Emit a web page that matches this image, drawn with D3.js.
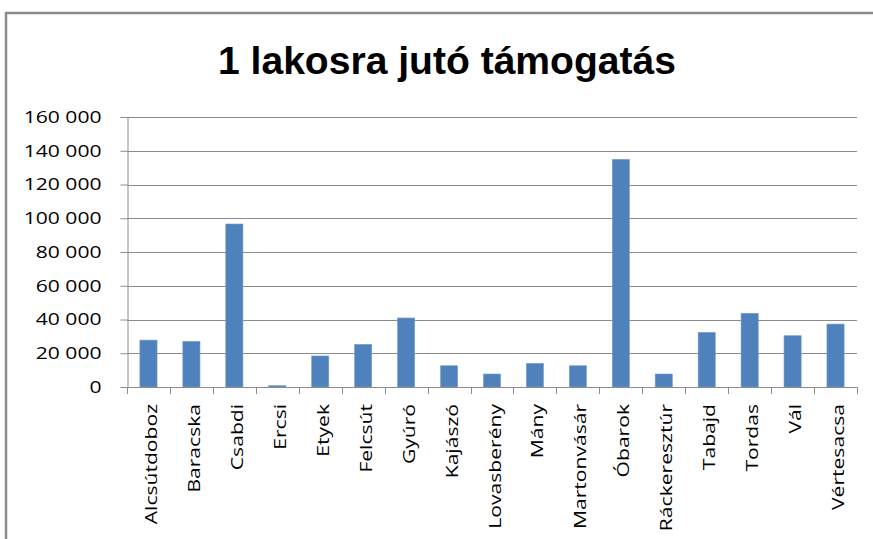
<!DOCTYPE html>
<html>
<head>
<meta charset="utf-8">
<script src="https://cdn.jsdelivr.net/npm/d3@7"></script>
<style>
  body { margin: 0; background: #fff; }
</style>
</head>
<body>
<div class="chart"></div>
<script>
var categories = ['Alcsútdoboz', 'Baracska', 'Csabdi', 'Ercsi', 'Etyek', 'Felcsút', 'Gyúró', 'Kajászó',
  'Lovasberény', 'Mány', 'Martonvásár', 'Óbarok', 'Ráckeresztúr', 'Tabajd', 'Tordas', 'Vál', 'Vértesacsa'];
var values = [27800, 27100, 96600, 800, 18400, 25300, 40900, 12600,
  7700, 14000, 12600, 134900, 7700, 32400, 43700, 30400, 37300];
var yTicks = [0, 20000, 40000, 60000, 80000, 100000, 120000, 140000, 160000];
var title = '1 lakosra jutó támogatás';

const width = 873;
const height = 539;
var plotLeft = 127, plotRight = 857, plotTop = 117, plotBottom = 387;
var stretch = 1.24;

var svg = d3.select('.chart')
  .append('svg')
  .attr('width', width)
  .attr('height', height);

// chart frame
svg.append('rect')
  .attr('x', 6).attr('y', 13)
  .attr('width', 920).attr('height', 600)
  .attr('fill', 'none')
  .attr('stroke', '#8c8c8c')
  .attr('stroke-width', 2.5);

var x = d3.scaleBand()
  .domain(categories)
  .range([plotLeft, plotRight])
  .paddingInner(0.6)
  .paddingOuter(0.3);

var y = d3.scaleLinear()
  .domain([0, 160000])
  .range([plotBottom, plotTop]);

var fmt = d3.formatLocale({decimal: ',', thousands: '\u00a0', grouping: [3], currency: ['', ' Ft']}).format(',d');

// gridlines
svg.append('g')
  .selectAll('line')
  .data(yTicks.slice(1))
  .enter()
  .append('line')
  .attr('x1', plotLeft).attr('x2', plotRight)
  .attr('y1', function(d){return Math.round(y(d)) + 0.5})
  .attr('y2', function(d){return Math.round(y(d)) + 0.5})
  .attr('stroke', '#8c8c8c');

// y axis
var yAxis = svg.append('g')
  .attr('transform', 'translate(' + (plotLeft + 0.5) + ',0)')
  .call(d3.axisLeft(y).tickValues(yTicks).tickFormat(fmt).tickSize(7).tickPadding(19));
yAxis.select('.domain').attr('stroke', '#8c8c8c');
yAxis.selectAll('.tick line').attr('stroke', '#8c8c8c');
yAxis.selectAll('.tick text')
  .attr('font-family', 'Open Sans')
  .attr('font-size', '17px')
  .attr('fill', '#000');

// bars
svg.append('g')
  .selectAll('rect')
  .data(values)
  .enter()
  .append('rect')
  .attr('x', function(d, i){return x(categories[i])})
  .attr('y', function(d){return y(d)})
  .attr('width', x.bandwidth())
  .attr('height', function(d){return y(0) - y(d)})
  .attr('fill', '#4f81bd')
  .attr('stroke', '#7aa0cf')
  .attr('stroke-width', 0.6);

// x axis line + boundary ticks
svg.append('line')
  .attr('x1', plotLeft).attr('x2', plotRight)
  .attr('y1', plotBottom + 0.5).attr('y2', plotBottom + 0.5)
  .attr('stroke', '#8c8c8c');

svg.append('g')
  .selectAll('line')
  .data(d3.range(categories.length + 1))
  .enter()
  .append('line')
  .attr('x1', function(i){return Math.round(plotLeft + i * x.step()) + 0.5})
  .attr('x2', function(i){return Math.round(plotLeft + i * x.step()) + 0.5})
  .attr('y1', plotBottom).attr('y2', plotBottom + 7)
  .attr('stroke', '#8c8c8c');

// category labels, rotated
svg.append('g')
  .selectAll('text')
  .data(categories)
  .enter()
  .append('text')
  .attr('transform', function(d){
    return 'translate(' + (x(d) + x.bandwidth() / 2 + 8.5) + ',' + (plotBottom + 17) + ') rotate(-90)';
  })
  .attr('text-anchor', 'end')
  .attr('font-family', 'Open Sans')
  .attr('font-size', '17px')
  .attr('fill', '#000')
  .text(function(d){return d});

// title
svg.append('text')
  .attr('class', 'title')
  .attr('x', 447)
  .attr('y', 74)
  .attr('text-anchor', 'middle')
  .attr('font-family', 'Liberation Sans')
  .attr('font-weight', 'bold')
  .attr('font-size', '39px')
  .attr('fill', '#000')
  .text(title);

// widen small labels to the reference proportions
svg.selectAll('g text').each(function(){
  d3.select(this)
    .attr('textLength', this.getComputedTextLength() * stretch)
    .attr('lengthAdjust', 'spacingAndGlyphs');
});
svg.select('.title')
  .attr('textLength', 458)
  .attr('lengthAdjust', 'spacingAndGlyphs');
</script>
</body>
</html>
